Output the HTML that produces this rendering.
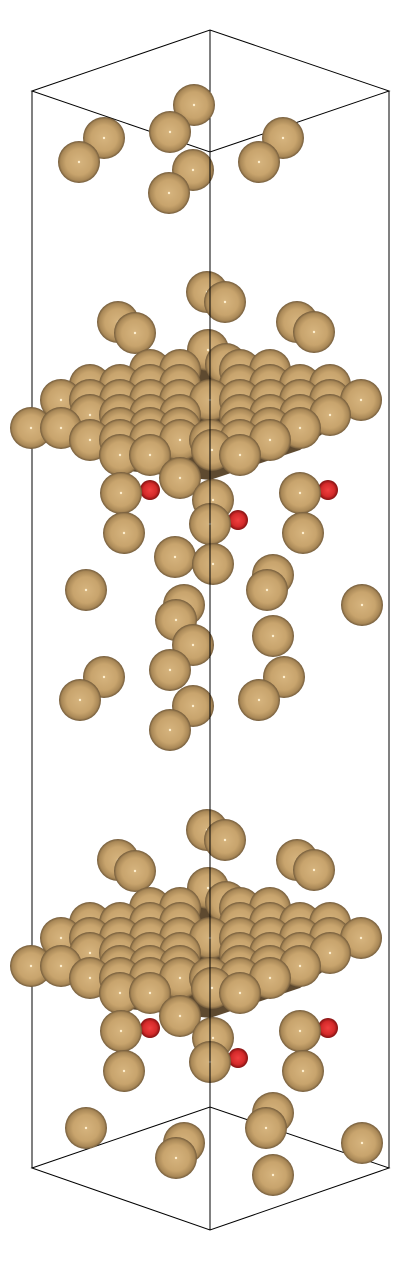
<!DOCTYPE html>
<html><head><meta charset="utf-8">
<style>
html,body{margin:0;padding:0;background:#fff;}
svg{display:block;}
</style></head>
<body>
<svg id="scene" width="400" height="1261" viewBox="0 0 400 1261" xmlns="http://www.w3.org/2000/svg">
<defs>
<radialGradient id="au" cx="0.5" cy="0.5" r="0.52">
<stop offset="0" stop-color="#d6b47e"/>
<stop offset="0.6" stop-color="#c8a46d"/>
<stop offset="0.85" stop-color="#a98857"/>
<stop offset="1" stop-color="#5e4a30"/>
</radialGradient>
<radialGradient id="ox" cx="0.5" cy="0.5" r="0.55">
<stop offset="0" stop-color="#f04040"/>
<stop offset="0.6" stop-color="#d42a2a"/>
<stop offset="1" stop-color="#6a0a0a"/>
</radialGradient>
</defs>
<g id="box" stroke="#000" stroke-width="1" fill="none">
<polygon points="32,91 210,30 389,91 210,152"/>
<polygon points="32,1168 210,1107 389,1168 210,1230"/>
<line x1="32" y1="91" x2="32" y2="1168"/>
<line x1="389" y1="91" x2="389" y2="1168"/>
<line x1="210" y1="30" x2="210" y2="1107"/>
</g>
<g id="shadows" fill="#5e4a30">
<polygon points="45,420 150,365 280,365 370,400 300,450 210,480 120,470"/>
<polygon points="45,958 150,903 280,903 370,938 300,988 210,1018 120,1008"/>
</g>
<g id="atoms"></g>
<g id="box-front" stroke="#000" stroke-width="1">
<line x1="210" y1="152" x2="210" y2="1230"/>
</g>
</svg>
<script>
var topAtoms=[[79,162],[104,138],[170,132],[194,105],[193,170],[169,193],[259,162],[283,138]];
var clusterTop=[[207,292],[225,302],[118,322],[135,333],[297,322],[314,332],[208,350],[226,364]];
var slabRows=[[370,[150,180,240,270]],[385,[90,120,150,180,240,270,300,330]],[400,[61,90,120,150,180,210,240,270,300,330,361]],[415,[90,120,150,180,240,270,300,330]],[428,[31,61,120,150,180,240,270,300]],[440,[90,120,150,180,210,240,270]],[455,[120,150,240]],[450,[212]],[478,[180]]];
var below=[[121,493],[300,493],[213,500],[210,524],[124,533],[303,533],[175,557],[213,564],[273,575],[267,590],[86,590],[362,605],[184,605],[176,620],[193,645],[273,636],[170,670],[284,677],[104,677],[80,700],[193,706],[259,700],[170,730]];
var oxygens=[[150,490],[328,490],[238,520]];
var bottomAtoms=[[86,1128],[184,1143],[176,1158],[273,1113],[266,1128],[362,1143],[273,1175]];
var shift=538;
var atoms=[];
topAtoms.forEach(function(p){atoms.push([p[0],p[1],'au']);});
[0,shift].forEach(function(s){
 clusterTop.forEach(function(p){atoms.push([p[0],p[1]+s,'au']);});
 slabRows.forEach(function(r){r[1].forEach(function(x){atoms.push([x,r[0]+s,'au']);});});
 oxygens.forEach(function(p){atoms.push([p[0],p[1]+s,'ox']);});
});
below.forEach(function(p){atoms.push([p[0],p[1],'au']);});
below.slice(0,6).forEach(function(p){atoms.push([p[0],p[1]+shift,'au']);});
bottomAtoms.forEach(function(p){atoms.push([p[0],p[1],'au']);});
atoms.sort(function(a,b){return a[1]-b[1];});
var g=document.getElementById('atoms');
var NS='http://www.w3.org/2000/svg';
atoms.forEach(function(a){
 var c=document.createElementNS(NS,'circle');
 c.setAttribute('cx',a[0]);c.setAttribute('cy',a[1]);
 c.setAttribute('r',a[2]==='au'?21:10);
 c.setAttribute('fill',a[2]==='au'?'url(#au)':'url(#ox)');
 
 
 g.appendChild(c);
 if(a[2]==='au'){
  var d=document.createElementNS(NS,'circle');
  d.setAttribute('cx',a[0]);d.setAttribute('cy',a[1]);d.setAttribute('r',1.2);d.setAttribute('fill','#fff0d0');
  
  
  g.appendChild(d);
 }
});
</script>
</body></html>
